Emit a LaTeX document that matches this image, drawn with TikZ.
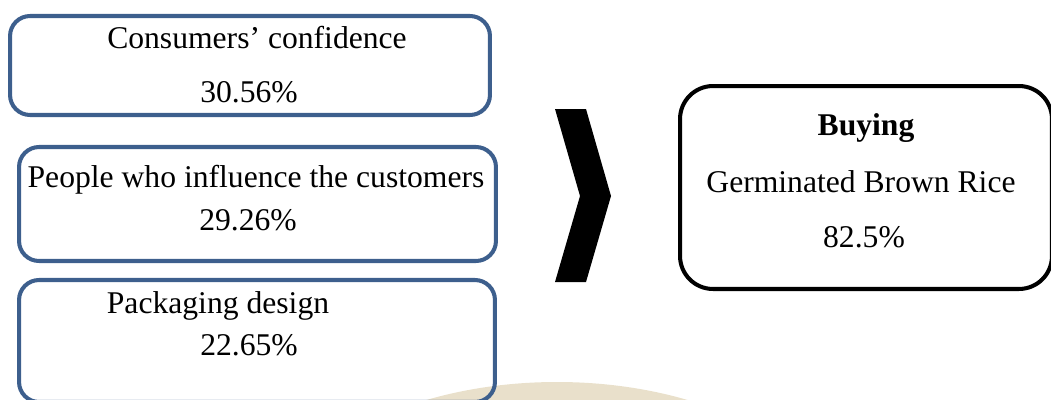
\documentclass[tikz,border=0pt]{standalone}
\usepackage{fontspec}
\setmainfont{Liberation Serif}
\usetikzlibrary{positioning,shapes}
\definecolor{boxblue}{RGB}{61,95,141}
\definecolor{logobeige}{RGB}{233,224,203}
\tikzset{%
	factor/.style = {draw=boxblue, line width=2.3pt, rectangle, rounded corners=0.4cm}, % left boxes
	result/.style = {draw=black, line width=2.3pt, rectangle, rounded corners=0.66cm}, % right box
	txt/.style    = {anchor=base, inner sep=0pt, font=\fontsize{18}{22}\selectfont},
}
\begin{document}
\begin{tikzpicture}[x=0.02cm,y=-0.02cm]
	\useasboundingbox (0,0) rectangle (1051,399);
	\fill[logobeige] (557,563) ellipse [x radius=300, y radius=181];

	\node [factor,minimum width=9.6cm,minimum height=1.98cm] (conf) at (250,65.5) {};
	\node [factor,minimum width=9.54cm,minimum height=2.28cm] (infl) at (257.5,204) {};
	\node [factor,minimum width=9.52cm,minimum height=2.44cm] (pack) at (257,341) {};
	\node [result,minimum width=7.44cm,minimum height=4.06cm] (buy) at (866,187.5) {};

	\node [txt] (conft) at (257,48) {Consumers’ confidence};
	\node [txt] (confp) at (249,102) {30.56\%};
	\node [txt] (inflt) at (256,187) {People who influence the customers};
	\node [txt] (inflp) at (248,230) {29.26\%};
	\node [txt] (packt) at (218,313) {Packaging design};
	\node [txt] (packp) at (249,355) {22.65\%};
	\node [txt] (buyt) at (866,135) {\bfseries Buying};
	\node [txt] (buyg) at (861,192) {Germinated Brown Rice};
	\node [txt] (buyp) at (864,247) {82.5\%};

	\fill (555,109) -- (586,109) -- (611,196) -- (586,282) -- (555,282) -- (580,196) -- cycle;
\end{tikzpicture}
\end{document}
